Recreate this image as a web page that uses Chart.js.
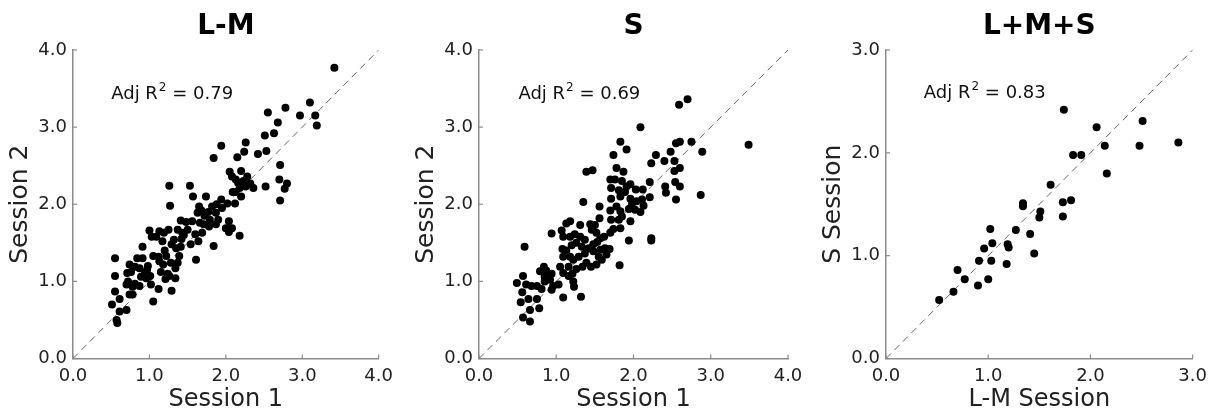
<!DOCTYPE html>
<html><head><meta charset="utf-8">
<script src="https://cdn.jsdelivr.net/npm/chart.js@4.4.1/dist/chart.umd.min.js"></script>
<style>
html,body{margin:0;padding:0;background:#fff;width:1214px;height:414px;overflow:hidden}
.p{position:absolute;top:0;height:414px}
</style></head><body>
<div class="p" style="left:0;width:400px"><canvas id="c1"></canvas></div>
<div class="p" style="left:406px;width:404px"><canvas id="c2"></canvas></div>
<div class="p" style="left:813px;width:401px"><canvas id="c3"></canvas></div>
<script>
// ---------- DATA ----------
const panelTitles = ['L-M', 'S', 'L+M+S'];
const xTitles = ['Session 1', 'Session 1', 'L-M Session'];
const yTitles = ['Session 2', 'Session 2', 'S Session'];
const r2Values = ['0.79', '0.69', '0.83'];
const ticks4 = ['0.0', '1.0', '2.0', '3.0', '4.0'];
const ticks3 = ['0.0', '1.0', '2.0', '3.0'];

const lmX = [3.42,3.10,2.78,2.55,2.97,3.17,3.19,2.68,2.63,2.51,1.94,2.26,2.53,2.24,2.42,1.84,2.15,2.71,2.70,2.80,2.77,2.52,2.71,2.05,2.20,2.28,2.08,2.13,2.23,2.32,2.36,2.18,2.26,2.09,2.13,2.20,2.12,2.02,1.94,1.88,1.74,1.82,1.77,1.87,1.90,1.79,1.71,1.78,1.87,1.65,1.57,1.53,1.63,1.56,1.69,1.60,1.64,1.54,1.84,1.61,2.04,2.00,2.08,2.04,2.18,1.48,1.41,1.43,1.37,1.50,1.42,1.32,1.25,1.26,1.27,1.19,1.13,1.09,1.00,1.03,1.17,1.29,1.35,1.41,1.39,1.37,1.34,1.34,1.28,1.22,1.12,1.05,1.13,1.18,1.24,1.21,1.26,1.29,1.12,1.05,1.02,0.91,1.01,0.97,0.91,0.84,0.74,0.81,0.87,0.94,0.89,0.96,0.76,0.71,0.72,0.70,0.81,0.87,0.78,0.74,0.78,0.55,0.55,0.55,0.61,0.51,0.70,0.61,0.57,0.58,1.68,1.72,1.66,1.20,1.45,0.98,1.15,1.95,2.16];
const lmY = [3.77,3.32,3.25,3.19,3.15,3.15,3.02,3.06,2.92,2.89,2.76,2.80,2.69,2.68,2.65,2.60,2.61,2.51,2.32,2.27,2.20,2.23,2.05,2.42,2.43,2.36,2.36,2.32,2.30,2.27,2.21,2.21,2.23,2.16,2.16,2.10,2.01,2.01,2.06,2.00,2.10,1.97,1.90,1.89,1.80,1.80,1.74,1.71,1.74,1.97,2.10,2.24,1.89,1.78,1.63,1.61,1.52,1.48,1.46,1.28,1.78,1.69,1.69,1.64,1.59,1.77,1.79,1.63,1.67,1.67,1.55,1.54,1.67,2.24,1.98,1.63,1.65,1.58,1.66,1.58,1.52,1.48,1.43,1.45,1.33,1.24,1.17,1.04,1.24,1.33,1.32,1.33,1.26,1.22,1.10,1.03,1.07,0.88,0.90,0.74,0.96,1.45,1.07,1.15,1.30,1.30,1.22,1.19,1.17,1.11,1.06,1.04,1.12,1.11,1.00,0.96,0.97,0.94,0.93,0.83,0.83,1.30,1.07,0.87,0.77,0.70,0.63,0.61,0.50,0.46,1.92,1.85,1.76,1.40,1.60,1.20,1.12,1.95,2.28];

const sX = [3.49,2.70,2.59,2.09,2.75,2.60,2.55,2.89,2.48,2.29,1.83,1.91,1.74,2.23,2.40,2.53,2.53,2.60,1.39,1.47,1.78,1.87,1.70,1.76,1.85,1.96,1.71,1.81,1.89,1.91,2.03,2.12,2.21,2.54,2.60,2.41,2.42,2.21,2.55,2.87,1.35,1.71,1.83,1.96,1.98,2.04,2.11,2.13,2.02,2.09,1.94,1.78,1.83,1.70,1.56,1.56,1.71,1.81,1.85,1.96,1.83,1.74,1.70,1.94,2.23,2.23,1.82,1.44,1.50,1.46,1.31,1.18,1.13,1.07,0.94,1.09,1.18,1.24,1.31,1.37,1.52,1.57,1.62,1.53,1.48,1.42,1.33,1.26,1.20,1.08,1.13,1.18,1.09,1.22,1.29,1.37,1.48,1.57,1.63,1.69,1.65,1.55,1.59,1.52,1.45,1.39,1.34,1.26,1.16,1.05,1.09,1.16,1.21,1.22,1.23,1.09,1.32,1.03,0.94,0.84,0.87,0.79,0.85,0.92,0.85,0.96,0.94,0.81,0.75,0.68,0.61,0.57,0.49,0.56,0.64,0.75,0.54,0.66,0.78,0.57,0.66,0.59];
const sY = [2.77,3.36,3.29,3.00,2.81,2.81,2.79,2.68,2.68,2.64,2.81,2.71,2.64,2.53,2.56,2.56,2.43,2.47,2.42,2.44,2.47,2.42,2.32,2.32,2.30,2.26,2.21,2.18,2.16,2.23,2.19,2.19,2.29,2.29,2.23,2.23,2.15,2.09,2.06,2.12,2.03,2.07,2.10,2.07,2.00,2.04,2.06,1.98,1.93,1.90,1.94,1.97,1.91,1.92,1.97,1.82,1.80,1.80,1.84,1.78,1.69,1.68,1.63,1.53,1.56,1.53,1.21,1.74,1.73,1.67,1.73,1.78,1.75,1.66,1.62,1.58,1.58,1.61,1.58,1.54,1.63,1.56,1.58,1.51,1.48,1.43,1.45,1.50,1.47,1.42,1.40,1.32,1.32,1.28,1.32,1.36,1.39,1.41,1.43,1.42,1.35,1.32,1.28,1.22,1.19,1.24,1.19,1.16,1.19,1.19,1.11,1.07,1.10,1.00,0.93,0.79,0.80,0.96,1.10,1.19,1.14,1.13,1.06,1.02,1.00,0.94,0.89,0.90,0.94,0.94,0.96,1.07,0.98,0.86,0.77,0.77,0.73,0.63,0.65,0.53,0.48,1.45];

const lmsX = [1.74,2.06,2.51,2.86,2.48,2.14,1.83,1.91,2.16,1.61,1.34,1.34,1.73,1.81,1.51,1.50,1.73,1.02,1.27,1.41,1.04,1.19,1.20,0.96,1.45,0.91,1.03,1.18,0.70,0.77,1.00,0.90,0.66,0.52];
const lmsY = [2.42,2.25,2.31,2.10,2.07,2.07,1.98,1.98,1.80,1.69,1.51,1.48,1.52,1.54,1.43,1.37,1.38,1.26,1.25,1.21,1.12,1.11,1.08,1.07,1.02,0.95,0.95,0.92,0.86,0.77,0.77,0.71,0.65,0.57];

// ---------- DRAWING ----------
const FONT = '"DejaVu Sans", sans-serif';
const AXIS_COLOR = '#8c8c8c';

const extras = {
  id: 'extras',
  beforeDatasetsDraw(chart, args, opts) {
    const {ctx, scales: {x, y}} = chart;
    ctx.save();
    ctx.strokeStyle = AXIS_COLOR; ctx.lineWidth = 1.2;
    x.ticks.forEach(t => { const px = x.getPixelForValue(t.value); ctx.beginPath(); ctx.moveTo(px, y.bottom); ctx.lineTo(px, y.bottom - 4); ctx.stroke(); });
    y.ticks.forEach(t => { const py = y.getPixelForValue(t.value); ctx.beginPath(); ctx.moveTo(x.left, py); ctx.lineTo(x.left + 4, py); ctx.stroke(); });
    ctx.restore();
  },
  afterDatasetsDraw(chart, args, opts) {
    const {ctx, scales: {x, y}} = chart;
    const px = x.getPixelForValue(opts.ax), py = y.getPixelForValue(opts.ay);
    ctx.save();
    ctx.fillStyle = '#111'; ctx.textBaseline = 'alphabetic'; ctx.textAlign = 'left';
    ctx.font = '18px ' + FONT;
    const a = 'Adj R'; ctx.fillText(a, px, py);
    const w = ctx.measureText(a).width;
    ctx.font = '12px ' + FONT; ctx.fillText('2', px + w + 1, py - 8);
    const w2 = ctx.measureText('2').width;
    ctx.font = '18px ' + FONT; ctx.fillText(' = ' + opts.r2, px + w + 1 + w2, py);
    ctx.restore();
  }
};

function scaleOpts(max, labels, title, isY) {
  return {
    type: 'linear', min: 0, max: max,
    ticks: { stepSize: 1, autoSkip: false, maxRotation: 0, color: '#222', padding: isY ? 6 : 7,
      font: { family: FONT, size: 18 }, callback: (v, i) => labels[i] },
    grid: { display: false, drawTicks: false },
    border: { display: true, color: AXIS_COLOR, width: 1.5 },
    title: { display: true, text: title, color: '#222', font: { family: FONT, size: isY ? 25 : 24 },
      padding: isY ? { top: 5, bottom: 0 } : { top: 0, bottom: 0 } },
    afterFit: s => { if (isY) s.width = 73; else s.height = 55.5; }
  };
}

function makeChart(id, idx, xs, ys, max, labels, ax, ay) {
  const pts = xs.map((v, i) => ({ x: v, y: ys[i] }));
  new Chart(document.getElementById(id), {
    type: 'scatter',
    data: { datasets: [
      { data: pts, backgroundColor: '#000', borderColor: '#000', pointRadius: 4, pointBorderWidth: 0 },
      { data: [{ x: 0, y: 0 }, { x: max, y: max }], showLine: true, borderColor: '#666', borderWidth: 1,
        borderDash: [7, 5], pointRadius: 0, fill: false }
    ]},
    options: {
      responsive: true, maintainAspectRatio: false, animation: false,
      layout: { padding: { left: 0, right: id === 'c2' ? 22 : 19, top: 0, bottom: 0 } },
      scales: { x: scaleOpts(max, labels, xTitles[idx], false), y: scaleOpts(max, labels, yTitles[idx], true) },
      plugins: {
        legend: { display: false }, tooltip: { enabled: false },
        title: { display: true, text: panelTitles[idx], fullSize: false, color: '#000',
          font: { family: FONT, size: 28, weight: 'bold' }, padding: { top: 10, bottom: 6.4 } },
        extras: { ax: ax, ay: ay, r2: r2Values[idx] }
      }
    },
    plugins: [extras]
  });
}

makeChart('c1', 0, lmX, lmY, 4, ticks4, 0.5, 3.37);
makeChart('c2', 1, sX, sY, 4, ticks4, 0.51, 3.37);
makeChart('c3', 2, lmsX, lmsY, 3, ticks3, 0.37, 2.53);
</script>
</body></html>
